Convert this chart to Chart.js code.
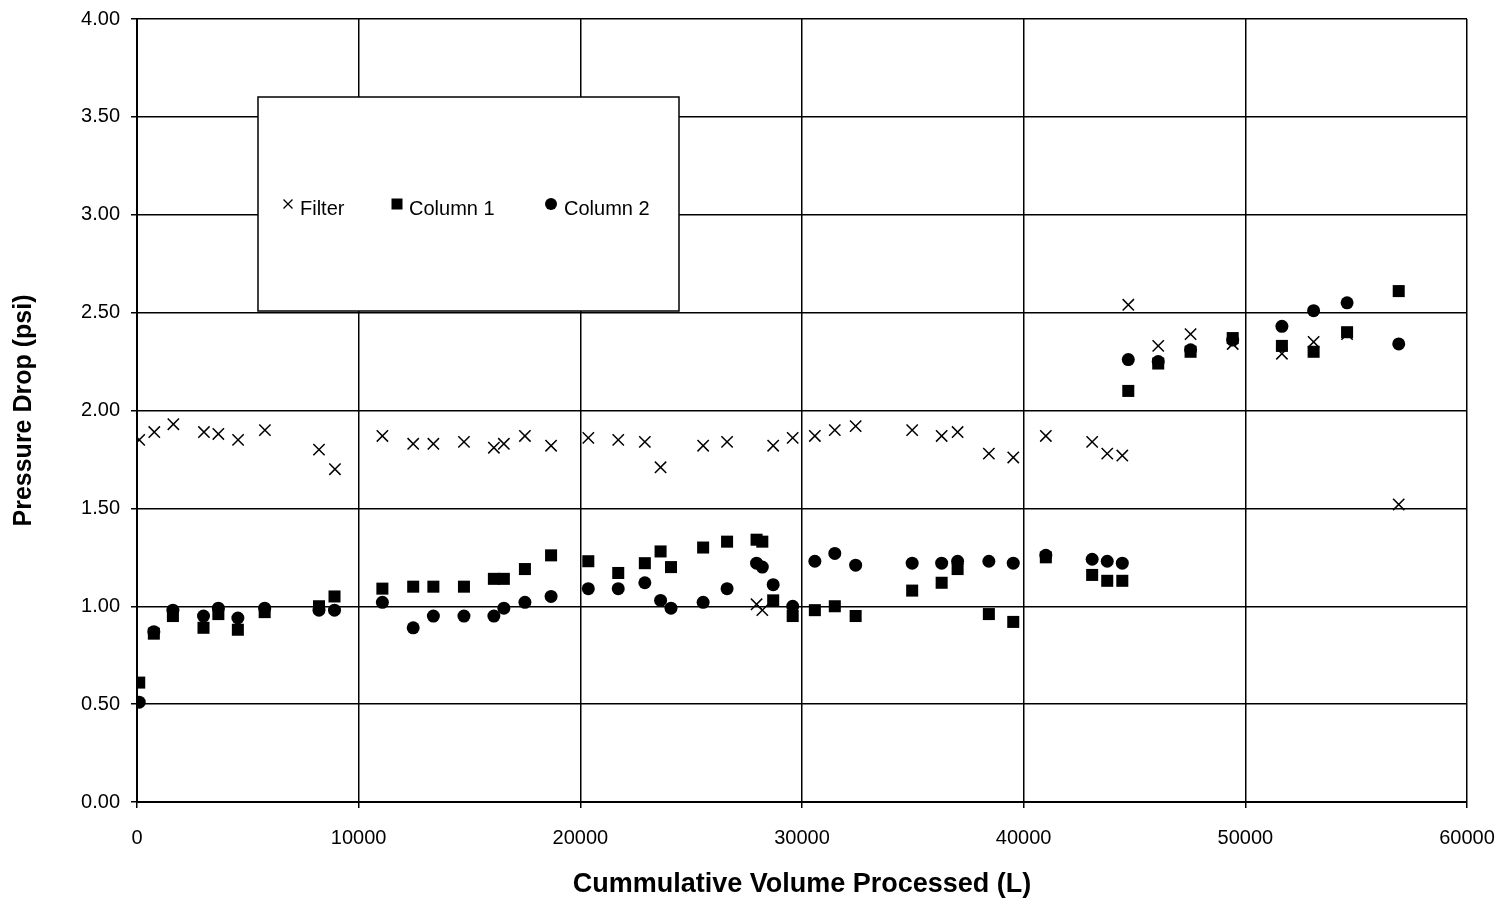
<!DOCTYPE html>
<html>
<head>
<meta charset="utf-8">
<script src="https://cdn.jsdelivr.net/npm/chart.js"></script>
<style>
  html, body { margin: 0; padding: 0; background: #ffffff; }
  #wrap { width: 1503px; height: 908px; position: relative; }
</style>
</head>
<body>
<div id="wrap"><canvas id="c"></canvas></div>
<script>
// ---- data ----
const filterVolume = [100, 780, 1640, 3020, 3670, 4560, 5770, 8210, 8930, 11070,
  12460, 13370, 14750, 16100, 16550, 17500, 18680, 20360, 21710, 22910,
  23620, 25540, 26620, 27950, 28210, 28700, 29580, 30580, 31480, 32420,
  34970, 36300, 37020, 38430, 39530, 41000, 43090, 43770, 44450, 44720,
  46070, 47530, 49430, 51650, 53080, 54590, 56920];
const filterDrop = [1.85, 1.89, 1.93, 1.89, 1.88, 1.85, 1.90, 1.80, 1.70, 1.87,
  1.83, 1.83, 1.84, 1.81, 1.83, 1.87, 1.82, 1.86, 1.85, 1.84,
  1.71, 1.82, 1.84, 1.01, 0.98, 1.82, 1.86, 1.87, 1.90, 1.92,
  1.90, 1.87, 1.89, 1.78, 1.76, 1.87, 1.84, 1.78, 1.77, 2.54,
  2.33, 2.39, 2.34, 2.29, 2.35, 2.39, 1.52];

const columnVolume = [100, 760, 1620, 3000, 3670, 4550, 5760, 8210, 8910, 11070,
  12460, 13370, 14750, 16100, 16550, 17500, 18680, 20360, 21710, 22910,
  23620, 24090, 25540, 26620, 27950, 28210, 28700, 29580, 30580, 31480,
  32420, 34970, 36300, 37020, 38430, 39530, 41000, 43090, 43770, 44450,
  44720, 46070, 47530, 49430, 51650, 53080, 54590, 56920];
const column1Drop = [0.61, 0.86, 0.95, 0.89, 0.96, 0.88, 0.97, 1.00, 1.05, 1.09,
  1.10, 1.10, 1.10, 1.14, 1.14, 1.19, 1.26, 1.23, 1.17, 1.22,
  1.28, 1.20, 1.30, 1.33, 1.34, 1.33, 1.03, 0.95, 0.98, 1.00,
  0.95, 1.08, 1.12, 1.19, 0.96, 0.92, 1.25, 1.16, 1.13, 1.13,
  2.10, 2.24, 2.30, 2.37, 2.33, 2.30, 2.40, 2.61];
const column2Drop = [0.51, 0.87, 0.98, 0.95, 0.99, 0.94, 0.99, 0.98, 0.98, 1.02,
  0.89, 0.95, 0.95, 0.95, 0.99, 1.02, 1.05, 1.09, 1.09, 1.12,
  1.03, 0.99, 1.02, 1.09, 1.22, 1.20, 1.11, 1.00, 1.23, 1.27,
  1.21, 1.22, 1.22, 1.23, 1.23, 1.22, 1.26, 1.24, 1.23, 1.22,
  2.26, 2.25, 2.31, 2.36, 2.43, 2.51, 2.55, 2.34];

const seriesNames = ['Filter', 'Column 1', 'Column 2'];
const xTitle = 'Cummulative Volume Processed (L)';
const yTitle = 'Pressure Drop (psi)';
const xTickValues = [0, 10000, 20000, 30000, 40000, 50000, 60000];
const yTickValues = [0, 0.5, 1, 1.5, 2, 2.5, 3, 3.5, 4];

// ---- build ----
const toPts = (xs, ys) => xs.map((x, i) => ({ x: x, y: ys[i] }));
const FONT = "'Liberation Sans', Arial, sans-serif";

const legendPlugin = {
  id: 'boxLegend',
  afterDatasetsDraw(chart) {
    const ctx = chart.ctx;
    const a = chart.chartArea;
    const left = a.left + 121, top = a.top + 78, w = 421, h = 214;
    ctx.save();
    ctx.fillStyle = '#ffffff';
    ctx.fillRect(left, top, w, h);
    ctx.lineWidth = 1.5;
    ctx.strokeStyle = '#000000';
    ctx.strokeRect(left, top, w, h);
    const my = top + 107, ty = top + 118;
    const items = [
      { mx: left + 30, tx: left + 42, style: 'x' },
      { mx: left + 139, tx: left + 151, style: 'sq' },
      { mx: left + 293, tx: left + 306, style: 'ci' }
    ];
    ctx.fillStyle = '#000000';
    items.forEach((it, i) => {
      ctx.beginPath();
      if (it.style === 'x') {
        ctx.lineWidth = 1.3;
        const s = 4.5;
        ctx.moveTo(it.mx - s, my - s); ctx.lineTo(it.mx + s, my + s);
        ctx.moveTo(it.mx + s, my - s); ctx.lineTo(it.mx - s, my + s);
        ctx.stroke();
      } else if (it.style === 'sq') {
        ctx.fillRect(it.mx - 5.5, my - 5.5, 11, 11);
      } else {
        ctx.arc(it.mx, my, 6, 0, Math.PI * 2);
        ctx.fill();
      }
      ctx.font = '20px ' + FONT;
      ctx.textAlign = 'left';
      ctx.textBaseline = 'alphabetic';
      ctx.fillText(seriesNames[i], it.tx, ty);
    });
    ctx.restore();
  }
};

new Chart(document.getElementById('c'), {
  type: 'scatter',
  data: {
    datasets: [
      { label: seriesNames[0], data: toPts(filterVolume, filterDrop), pointStyle: 'crossRot',
        pointRadius: 8, borderColor: '#000', backgroundColor: '#000', pointBorderWidth: 1.5, order: 3 },
      { label: seriesNames[1], data: toPts(columnVolume, column1Drop), pointStyle: 'rect',
        pointRadius: 8.5, borderColor: '#000', backgroundColor: '#000', pointBorderWidth: 0, order: 2 },
      { label: seriesNames[2], data: toPts(columnVolume, column2Drop), pointStyle: 'circle',
        pointRadius: 6.5, borderColor: '#000', backgroundColor: '#000', pointBorderWidth: 0, order: 1 }
    ]
  },
  options: {
    responsive: true,
    maintainAspectRatio: false,
    animation: false,
    layout: { padding: { left: 0, top: 19, right: 36, bottom: 0 } },
    plugins: { legend: { display: false }, tooltip: { enabled: false } },
    scales: {
      x: {
        type: 'linear', min: 0, max: 60000,
        afterFit: s => { s.height = 106; s.paddingLeft = 0; s.paddingRight = 0; },
        afterBuildTicks: s => { s.ticks = xTickValues.map(v => ({ value: v })); },
        ticks: { color: '#000', font: { family: FONT, size: 20 }, padding: 18,
                 callback: v => String(v), maxRotation: 0, autoSkip: false },
        grid: { color: '#000', lineWidth: 1.5, tickLength: 6, drawTicks: true },
        border: { color: '#000', width: 2 },
        title: { display: true, text: xTitle, color: '#000',
                 font: { family: FONT, size: 27, weight: 'bold' }, padding: { top: 0, bottom: 7 } }
      },
      y: {
        type: 'linear', min: 0, max: 4,
        afterFit: s => { s.width = 137; s.paddingTop = 0; s.paddingBottom = 0; },
        afterBuildTicks: s => { s.ticks = yTickValues.map(v => ({ value: v })); },
        ticks: { color: '#000', font: { family: FONT, size: 20 }, padding: 11,
                 callback: v => Number(v).toFixed(2), autoSkip: false },
        grid: { color: '#000', lineWidth: 1.5, tickLength: 6, drawTicks: true },
        border: { color: '#000', width: 2 },
        title: { display: true, text: yTitle, color: '#000',
                 font: { family: FONT, size: 25, weight: 'bold' }, padding: { top: 9, bottom: 0 } }
      }
    }
  },
  plugins: [legendPlugin]
});
</script>
</body>
</html>
